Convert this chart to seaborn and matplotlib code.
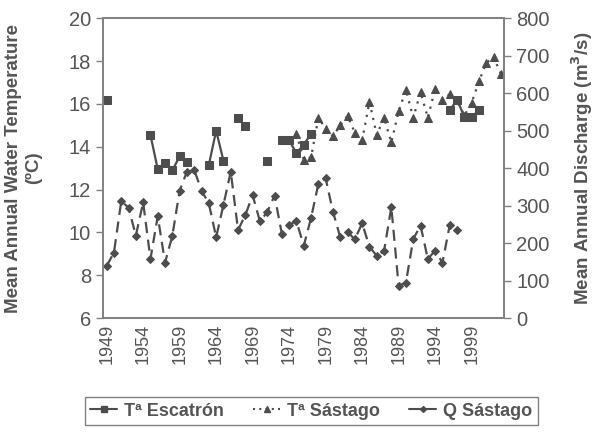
import numpy as np
import pandas as pd
import matplotlib
matplotlib.use("Agg")
import matplotlib.pyplot as plt
from matplotlib.lines import Line2D
import seaborn as sns

years = list(range(1949, 2004))
nan = np.nan

t_escatron = [16.2, nan, nan, nan, nan, nan,
              14.55, 12.95, 13.25, 12.9, 13.55, 13.3,
              nan, nan,
              13.15, 14.75, 13.35,
              nan,
              15.35, 14.95,
              nan, nan,
              13.35,
              nan,
              14.3, 14.3, 13.7, 14.1, 14.6,
              nan, nan, nan, nan, nan, nan, nan, nan, nan,
              nan, nan, nan, nan, nan, nan, nan, nan, nan,
              15.7, 16.2, 15.4, 15.4, 15.7,
              nan, nan, nan]

t_sastago = [nan] * 26 + [14.6, 13.4, 13.5, 15.35, 14.85, 14.5, 15.0, 15.45,
                          14.65, 14.3, 16.1, 14.55, 15.35, 14.2, 15.65, 16.65,
                          15.35, 16.55, 15.35, 16.7, 16.2, 16.45, 16.2, 15.45,
                          16.05, 17.05, 17.9, 18.2, 17.4]

q_sastago = [139, 175, 312, 295, 220, 309, 158, 272, 148, 220,
             340, 391, 395, 340, 306, 216, 302, 391, 235, 275,
             328, 258, 283, 327, 225, 249, 259, 193, 267, 358,
             373, 284, 216, 230, 210, 253, 191, 166, 179, 296,
             86, 95, 211, 247, 158, 180, 148, 248, 235,
             nan, nan, nan, nan, nan, nan]

label_years = list(range(1949, 2000, 5))

sns.set_style("white")
plt.rcParams['font.family'] = ['Liberation Sans', 'DejaVu Sans']

GRAY = "#4d4d4d"
TXT = "#555555"
AX = "#808080"

df = pd.DataFrame({"year": years, "esc": t_escatron, "sas": t_sastago, "q": q_sastago})
df["seg"] = df["esc"].isna().cumsum()

fig = plt.figure(figsize=(5.94, 4.37), dpi=100)
ax = fig.add_axes([0.1734, 0.2719, 0.6759, 0.6865])
ax2 = ax.twinx()

esc = df.dropna(subset=["esc"])
sns.lineplot(data=esc, x="year", y="esc", units="seg", estimator=None, ax=ax,
             color=GRAY, marker="s", markersize=5.5, linewidth=1.6,
             markeredgecolor=GRAY, legend=False)
sas = df.dropna(subset=["sas"])
sns.lineplot(data=sas, x="year", y="sas", ax=ax, color=GRAY, marker="^",
             markersize=5.5, linewidth=1.6, linestyle=(0, (1, 2.6)),
             markeredgecolor=GRAY, legend=False)
qd = df.dropna(subset=["q"])
sns.lineplot(data=qd, x="year", y="q", ax=ax2, color=GRAY, marker="D",
             markersize=3.8, linewidth=1.6, linestyle=(0, (5, 3)),
             markeredgecolor=GRAY, legend=False)

ax.set_xlim(1948.5, 2003.5)
ax.set_ylim(6, 20)
ax2.set_ylim(0, 800)
ax.set_yticks(range(6, 21, 2))
ax2.set_yticks(range(0, 801, 100))
ax.set_xticks(label_years)
ax.set_xticklabels([str(y) for y in label_years], rotation=90)
ax.set_xticks(np.arange(1948.5, 2003.0, 3), minor=True)
ax.tick_params(axis="x", which="major", length=0, labelsize=13, colors=TXT, pad=4)
ax.tick_params(axis="x", which="minor", length=5, width=1, color=AX, direction="out")
ax.tick_params(axis="y", length=5, width=1, color=AX, direction="out",
               labelsize=14.5, labelcolor=TXT, left=True)
ax2.tick_params(axis="y", length=5, width=1, color=AX, direction="out",
                labelsize=14.5, labelcolor=TXT, right=True)
ax.set_xlabel("")
ax.set_ylabel("Mean Annual Water Temperature\n(ºC)", fontsize=13.5, fontweight="bold",
              color=TXT, linespacing=1.25)
ax.yaxis.set_label_coords(-0.152, 0.5)
ax2.set_ylabel("Mean Annual Discharge (m$^\\mathbf{3}$/s)", fontsize=13.5, fontweight="bold",
               color=TXT)
ax2.yaxis.set_label_coords(1.163, 0.5)
for a in (ax, ax2):
    for s in a.spines.values():
        s.set_color(AX)
        s.set_linewidth(1.2)
    a.grid(False)

handles = [
    Line2D([], [], color=GRAY, marker="s", markersize=4, linewidth=1.5),
    Line2D([], [], color=GRAY, marker="^", markersize=4, linewidth=1.5, linestyle=(0, (1, 2))),
    Line2D([], [], color=GRAY, marker="D", markersize=3, linewidth=1.5),
]
labels = ["Tª Escatrón", "Tª Sástago", "Q Sástago"]
leg = fig.legend(handles, labels, loc="center", bbox_to_anchor=(0.524, 0.059), ncol=3,
                 frameon=True, fancybox=False, edgecolor=AX, framealpha=1,
                 handlelength=1.5, columnspacing=1.6, handletextpad=0.4,
                 prop={"size": 13, "weight": "bold"}, borderpad=0.3)
leg.get_frame().set_linewidth(1.0)
for t in leg.get_texts():
    t.set_color(TXT)

fig.savefig("out.png", dpi=100, facecolor="white")
